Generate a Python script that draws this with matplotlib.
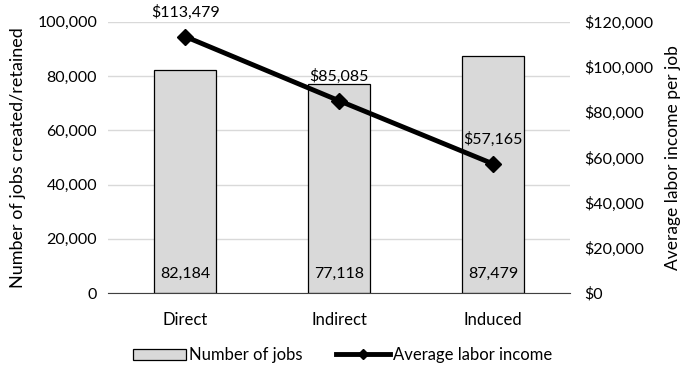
import numpy as np
import matplotlib
matplotlib.use('Agg')
import matplotlib.pyplot as plt
from matplotlib.ticker import FuncFormatter

categories = ['Direct', 'Indirect', 'Induced']
jobs = [82184, 77118, 87479]
income = [113479, 85085, 57165]

plt.rcParams['font.family'] = ['Lato', 'DejaVu Sans']
plt.rcParams['font.size'] = 11.5

fig = plt.figure(figsize=(6.85, 3.7), dpi=100)
ax = fig.add_axes([0.158, 0.208, 0.674, 0.733])
x = np.arange(len(categories))

ax.bar(x, jobs, width=0.4, color='#d9d9d9', edgecolor='black', linewidth=0.9,
       label='Number of jobs', zorder=2)
for xi, v in zip(x, jobs):
    ax.text(xi, 7000, f'{v:,}', ha='center', va='center', zorder=3)

ax.set_ylim(0, 100000)
ax.set_xlim(-0.5, 2.5)
ax.set_yticks(np.arange(0, 100001, 20000))
ax.yaxis.set_major_formatter(FuncFormatter(lambda v, p: f'{v:,.0f}'))
ax.grid(axis='y', color='#d9d9d9', linewidth=1, zorder=0)
ax.set_axisbelow(True)
ax.set_xticks(x)
ax.set_xticklabels(categories, fontsize=12)
ax.tick_params(length=0, pad=14)
ax.tick_params(axis='y', pad=8)
for s in ['top', 'right', 'left']:
    ax.spines[s].set_visible(False)
ax.spines['bottom'].set_color('#404040')
ax.set_ylabel('Number of jobs created/retained', fontsize=13, labelpad=8)

ax2 = ax.twinx()
ax2.plot(x, income, color='black', linewidth=3.5, marker='D', markersize=8,
         label='Average labor income', zorder=4)
for xi, v in zip(x, income):
    ax2.annotate(f'${v:,}', (xi, v), xytext=(0, 12), textcoords='offset points',
                 ha='center', va='bottom')
ax2.set_ylim(0, 120000)
ax2.set_yticks(np.arange(0, 120001, 20000))
ax2.yaxis.set_major_formatter(FuncFormatter(lambda v, p: f'${v:,.0f}'))
ax2.tick_params(length=0, pad=10)
for s in ['top', 'right', 'left', 'bottom']:
    ax2.spines[s].set_visible(False)
ax2.set_ylabel('Average labor income per job', fontsize=12.5, labelpad=9)

h1, l1 = ax.get_legend_handles_labels()
h2, l2 = ax2.get_legend_handles_labels()
fig.legend(h1 + h2, l1 + l2, loc='center', bbox_to_anchor=(0.5, 0.04), ncol=2,
           frameon=False, handlelength=3.2, handletextpad=0.2, columnspacing=2.0,
           fontsize=12, markerscale=0.6)

fig.savefig('out.png', dpi=100)
